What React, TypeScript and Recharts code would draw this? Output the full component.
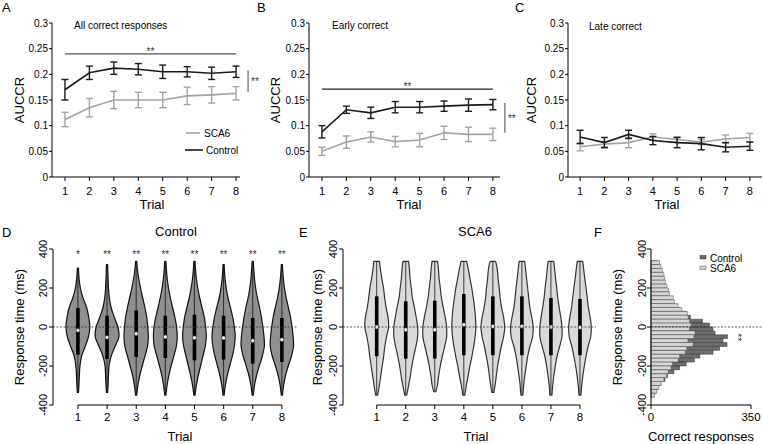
import React from "react";
import {
  LineChart,
  Line,
  BarChart,
  Bar,
  XAxis,
  YAxis,
  ErrorBar,
  ReferenceLine,
} from "recharts";

const trials = [1, 2, 3, 4, 5, 6, 7, 8];
const aucTicks = [0, 0.05, 0.1, 0.15, 0.2, 0.25, 0.3];
const rtTicks = [-400, -200, 0, 200, 400];

// A - all correct responses (AUCCR, mean and SEM)
const allCtl = [0.17, 0.203, 0.212, 0.21, 0.205, 0.205, 0.202, 0.205];
const allCtlErr = [0.02, 0.013, 0.012, 0.011, 0.013, 0.01, 0.012, 0.011];
const allSca = [0.112, 0.135, 0.15, 0.15, 0.15, 0.158, 0.16, 0.163];
const allScaErr = [0.014, 0.018, 0.017, 0.015, 0.015, 0.017, 0.016, 0.013];

// B - early correct
const earlyCtl = [0.088, 0.131, 0.125, 0.136, 0.136, 0.138, 0.14, 0.141];
const earlyCtlErr = [0.012, 0.007, 0.011, 0.011, 0.011, 0.01, 0.012, 0.01];
const earlySca = [0.05, 0.068, 0.078, 0.069, 0.072, 0.086, 0.083, 0.083];
const earlyScaErr = [0.008, 0.012, 0.01, 0.01, 0.013, 0.013, 0.014, 0.012];

// C - late correct
const lateCtl = [0.078, 0.067, 0.083, 0.071, 0.067, 0.065, 0.058, 0.06];
const lateCtlErr = [0.013, 0.01, 0.008, 0.008, 0.01, 0.012, 0.009, 0.008];
const lateSca = [0.059, 0.064, 0.067, 0.078, 0.073, 0.068, 0.074, 0.077];
const lateScaErr = [0.008, 0.005, 0.01, 0.006, 0.005, 0.005, 0.008, 0.008];

// D / E - violins of response time (ms)
const violinLevels = [300, 250, 200, 150, 100, 50, 0, -50, -100, -150, -200, -250, -300];

const ctlMax = [302, 320, 337, 337, 337, 320, 337, 320];
const ctlMin = [-335, -335, -349, -349, -349, -349, -349, -349];
const ctlQ3 = [97, 58, 85, 58, 63, 58, 46, 46];
const ctlQ1 = [-142, -164, -154, -159, -171, -167, -188, -179];
const ctlMed = [-17, -53, -34, -51, -55, -56, -70, -65];
const ctlStars = ["*", "**", "**", "**", "**", "**", "**", "**"];
const ctlWidths = [
  [0.02, 0.08, 0.17, 0.35, 0.6, 0.75, 0.82, 0.73, 0.5, 0.25, 0.14, 0.1, 0.07],
  [0.05, 0.07, 0.1, 0.16, 0.28, 0.5, 0.75, 0.82, 0.55, 0.28, 0.14, 0.1, 0.07],
  [0.08, 0.17, 0.3, 0.45, 0.6, 0.73, 0.8, 0.84, 0.78, 0.6, 0.42, 0.24, 0.12],
  [0.07, 0.13, 0.22, 0.35, 0.5, 0.66, 0.78, 0.82, 0.76, 0.58, 0.4, 0.24, 0.12],
  [0.07, 0.13, 0.23, 0.36, 0.52, 0.68, 0.77, 0.82, 0.74, 0.58, 0.42, 0.26, 0.13],
  [0.05, 0.1, 0.18, 0.3, 0.47, 0.63, 0.74, 0.8, 0.74, 0.6, 0.42, 0.25, 0.12],
  [0.07, 0.12, 0.2, 0.32, 0.47, 0.6, 0.7, 0.78, 0.8, 0.66, 0.45, 0.26, 0.12],
  [0.05, 0.1, 0.18, 0.3, 0.45, 0.6, 0.7, 0.78, 0.8, 0.66, 0.44, 0.25, 0.12],
];

const scaMax = [337, 337, 337, 337, 337, 337, 337, 337];
const scaMin = [-349, -349, -332, -349, -335, -349, -349, -349];
const scaQ3 = [157, 132, 135, 169, 157, 157, 149, 144];
const scaQ1 = [-150, -162, -162, -145, -145, -145, -145, -145];
const scaMed = [0, -14, -14, 12, 3, 3, 0, -2];
const scaWidths = [
  [0.25, 0.35, 0.47, 0.55, 0.65, 0.78, 0.82, 0.68, 0.56, 0.48, 0.38, 0.28, 0.18],
  [0.25, 0.3, 0.38, 0.46, 0.6, 0.72, 0.82, 0.82, 0.7, 0.55, 0.42, 0.32, 0.2],
  [0.25, 0.3, 0.38, 0.46, 0.58, 0.72, 0.82, 0.82, 0.68, 0.52, 0.38, 0.27, 0.18],
  [0.3, 0.42, 0.55, 0.65, 0.74, 0.8, 0.83, 0.78, 0.68, 0.56, 0.42, 0.3, 0.17],
  [0.3, 0.36, 0.44, 0.5, 0.6, 0.74, 0.82, 0.74, 0.58, 0.45, 0.33, 0.24, 0.15],
  [0.25, 0.32, 0.4, 0.47, 0.55, 0.68, 0.78, 0.74, 0.55, 0.4, 0.3, 0.2, 0.12],
  [0.25, 0.32, 0.4, 0.47, 0.57, 0.68, 0.76, 0.76, 0.6, 0.42, 0.3, 0.2, 0.12],
  [0.25, 0.33, 0.42, 0.5, 0.58, 0.7, 0.78, 0.74, 0.56, 0.42, 0.3, 0.2, 0.12],
];

// F - histogram of correct responses, 20 ms bins (bin centres)
const histBins = [
  330, 310, 290, 270, 250, 230, 210, 190, 170, 150, 130, 110, 90, 70, 50, 30, 10,
  -10, -30, -50, -70, -90, -110, -130, -150, -170, -190, -210, -230, -250, -270, -290, -310, -330, -350,
];
const histCtl = [
  22, 25, 30, 38, 40, 44, 48, 52, 55, 62, 70, 85, 100, 125, 138, 180, 205,
  217, 224, 268, 252, 266, 240, 217, 171, 152, 123, 100, 80, 58, 49, 35, 25, 18, 10,
];
const histSca = [
  30, 35, 40, 45, 48, 50, 56, 62, 65, 78, 82, 95, 108, 127, 130, 135, 140,
  135, 154, 150, 129, 147, 125, 120, 100, 95, 75, 70, 60, 55, 45, 35, 28, 20, 12,
];

const ctlColor = "#1c1c1c";
const scaColor = "#a4a4a4";
const axisFont = { fill: "#000", fontSize: 11 };

const aucPanels = [
  {
    left: 0, width: 262, right: 22, domain: [0.47, 8.16],
    ctl: allCtl, ctlErr: allCtlErr, sca: allSca, scaErr: allScaErr,
    sigY: 0.24, sigColor: "#555", barX: 8.49, barY: [0.166, 0.208],
  },
  {
    left: 257, width: 262, right: 19, domain: [0.47, 8.29],
    ctl: earlyCtl, ctlErr: earlyCtlErr, sca: earlySca, scaErr: earlyScaErr,
    sigY: 0.171, sigColor: "#222", barX: 8.49, barY: [0.086, 0.144],
  },
  {
    left: 516, width: 247, right: 1, domain: [0.5, 8.5],
    ctl: lateCtl, ctlErr: lateCtlErr, sca: lateSca, scaErr: lateScaErr,
    sigY: null, sigColor: "", barX: 0, barY: [0, 0],
  },
];

function AucPanel({ p }: { p: any }) {
  const rows = trials.map((t, i) => ({
    trial: t,
    ctl: p.ctl[i],
    ctlErr: p.ctlErr[i],
    sca: p.sca[i],
    scaErr: p.scaErr[i],
  }));
  return (
    <div style={{ position: "absolute", left: p.left, top: 0 }}>
      <LineChart
        width={p.width}
        height={215}
        data={rows}
        margin={{ top: 23, right: p.right, bottom: 0, left: 0 }}
      >
        <XAxis
          type="number"
          dataKey="trial"
          domain={p.domain}
          ticks={trials}
          allowDataOverflow
          height={38}
          stroke="#000"
          tick={axisFont}
          tickSize={4}
          tickMargin={6}
        />
        <YAxis
          domain={[0, 0.3]}
          ticks={aucTicks}
          width={52}
          stroke="#000"
          tick={{ fill: "#000", fontSize: 10 }}
          tickSize={3}
          tickMargin={1}
        />
        <Line
          type="linear"
          dataKey="sca"
          stroke={scaColor}
          strokeWidth={1.6}
          dot={false}
          isAnimationActive={false}
        >
          <ErrorBar dataKey="scaErr" width={3.5} stroke={scaColor} strokeWidth={1.4} direction="y" />
        </Line>
        <Line
          type="linear"
          dataKey="ctl"
          stroke={ctlColor}
          strokeWidth={1.6}
          dot={false}
          isAnimationActive={false}
        >
          <ErrorBar dataKey="ctlErr" width={3.5} stroke={ctlColor} strokeWidth={1.4} direction="y" />
        </Line>
        {p.sigY != null && (
          <ReferenceLine
            segment={[{ x: 1, y: p.sigY }, { x: 8, y: p.sigY }]}
            stroke={p.sigColor}
            strokeWidth={1.2}
            ifOverflow="visible"
            label={{ value: "**", position: "top", offset: -1, fontSize: 10, fill: "#333" }}
          />
        )}
        {p.sigY != null && (
          <ReferenceLine
            segment={[{ x: p.barX, y: p.barY[0] }, { x: p.barX, y: p.barY[1] }]}
            stroke="#666"
            strokeWidth={1.2}
            ifOverflow="visible"
            label={{ value: "**", position: "right", offset: 3, fontSize: 10, fill: "#333" }}
          />
        )}
      </LineChart>
    </div>
  );
}

function RotTick(props: any) {
  const { x, y, payload } = props;
  return (
    <text
      x={x}
      y={y}
      transform={`rotate(-90, ${x}, ${y})`}
      textAnchor="middle"
      fontSize={11}
      fill="#000"
    >
      {payload.value}
    </text>
  );
}

function smooth(pts: number[][]) {
  let d = "";
  for (let i = 0; i < pts.length - 1; i++) {
    const p0 = pts[Math.max(i - 1, 0)];
    const p1 = pts[i];
    const p2 = pts[i + 1];
    const p3 = pts[Math.min(i + 2, pts.length - 1)];
    d += ` C${p1[0] + (p2[0] - p0[0]) / 6},${p1[1] + (p2[1] - p0[1]) / 6} ${p2[0] - (p3[0] - p1[0]) / 6},${p2[1] - (p3[1] - p1[1]) / 6} ${p2[0]},${p2[1]}`;
  }
  return d;
}

function Violin(props: any) {
  const { x, y, width, height, payload, fill, outline } = props;
  const [lo, hi] = payload.range;
  const top = Math.min(y, y + height);
  const h = Math.abs(height);
  const py = (v: number) => top + ((hi - v) / (hi - lo)) * h;
  const cx = x + width / 2;
  const hw = width / 2;
  const prof: number[][] = [[hi, payload.capTop]];
  violinLevels.forEach((lv, i) => {
    if (lv < hi - 8 && lv > lo + 8) prof.push([lv, payload.widths[i]]);
  });
  prof.push([lo, payload.capBottom]);
  const rightSide = prof.map(([v, w]) => [cx + w * hw, py(v)]);
  const leftSide = prof
    .slice()
    .reverse()
    .map(([v, w]) => [cx - w * hw, py(v)]);
  const d =
    `M${rightSide[0][0]},${rightSide[0][1]}` +
    smooth(rightSide) +
    ` L${leftSide[0][0]},${leftSide[0][1]}` +
    smooth(leftSide) +
    " Z";
  return (
    <g>
      <path d={d} fill={fill} stroke={outline} strokeWidth={1.2} strokeLinejoin="round" />
      <line x1={cx} x2={cx} y1={py(hi)} y2={py(lo)} stroke="#111" strokeWidth={0.8} />
      <rect x={cx - 1.8} y={py(payload.q3)} width={3.6} height={py(payload.q1) - py(payload.q3)} fill="#000" />
      <circle cx={cx} cy={py(payload.med)} r={1.9} fill="#fff" stroke="#333" strokeWidth={0.5} />
      {payload.star ? (
        <text x={cx} y={py(355)} textAnchor="middle" fontSize={10} fill="#333">
          {payload.star}
        </text>
      ) : null}
    </g>
  );
}

const ctlRows = trials.map((t, i) => ({
  trial: t,
  range: [ctlMin[i], ctlMax[i]],
  q1: ctlQ1[i],
  q3: ctlQ3[i],
  med: ctlMed[i],
  widths: ctlWidths[i],
  capTop: 0.04,
  capBottom: 0.04,
  star: ctlStars[i],
}));

const scaRows = trials.map((t, i) => ({
  trial: t,
  range: [scaMin[i], scaMax[i]],
  q1: scaQ1[i],
  q3: scaQ3[i],
  med: scaMed[i],
  widths: scaWidths[i],
  capTop: 0.19,
  capBottom: 0.07,
  star: "",
}));

// lower charts: box top at 230, plot from y=249 to y=405
const lowTop = 230;
const lowHeight = 214;
const lowMarginTop = 19;

function ViolinPanel(props: any) {
  const { left, width, right, padding, rows, fill, outline } = props;
  return (
    <div style={{ position: "absolute", left, top: lowTop }}>
      <BarChart
        width={width}
        height={lowHeight}
        data={rows}
        margin={{ top: lowMarginTop, right, bottom: 0, left: 0 }}
        barCategoryGap={0}
      >
        <XAxis
          dataKey="trial"
          padding={padding}
          axisLine={false}
          interval={0}
          height={39}
          stroke="#000"
          tick={{ fill: "#000", fontSize: 11.5 }}
          tickSize={4}
          tickMargin={4}
        />
        <YAxis
          domain={[-400, 400]}
          ticks={rtTicks}
          width={53}
          stroke="#000"
          tick={(t: any) => <RotTick {...t} />}
          tickSize={4}
          tickMargin={2}
        />
        <Bar
          dataKey="range"
          fill={fill}
          isAnimationActive={false}
          shape={(s: any) => <Violin {...s} fill={fill} outline={outline} />}
        />
        <ReferenceLine y={0} stroke="#333" strokeWidth={0.8} strokeDasharray="2 1.5" />
        <ReferenceLine
          segment={[{ x: 1, y: -400 }, { x: 8, y: -400 }]}
          stroke="#000"
          ifOverflow="visible"
        />
      </BarChart>
    </div>
  );
}

const histRows = histBins.map((b, i) => ({ bin: b, ctl: histCtl[i], sca: histSca[i] }));

function HistPanel() {
  return (
    <div style={{ position: "absolute", left: 580, top: lowTop }}>
      <BarChart
        layout="vertical"
        width={183}
        height={lowHeight}
        data={histRows}
        margin={{ top: lowMarginTop, right: 12, bottom: 0, left: 0 }}
        barCategoryGap={0}
        barGap={-3.8}
      >
        <XAxis
          type="number"
          domain={[0, 350]}
          ticks={[0, 350]}
          height={39}
          stroke="#000"
          tick={{ fill: "#000", fontSize: 11.5 }}
          tickSize={4}
          tickMargin={4}
        />
        <YAxis
          type="number"
          dataKey="bin"
          domain={[-400, 400]}
          ticks={rtTicks}
          reversed
          width={71}
          stroke="#000"
          tick={(t: any) => <RotTick {...t} />}
          tickSize={4}
          tickMargin={1}
        />
        <Bar
          dataKey="ctl"
          fill="#6e6e6e"
          stroke="#333"
          strokeWidth={0.5}
          barSize={3.8}
          isAnimationActive={false}
        />
        <Bar
          dataKey="sca"
          fill="#d4d4d4"
          stroke="#555"
          strokeWidth={0.5}
          barSize={3.8}
          isAnimationActive={false}
        />
        <ReferenceLine
          segment={[{ x: 0, y: 0 }, { x: 395, y: 0 }]}
          stroke="#333"
          strokeWidth={0.8}
          strokeDasharray="2 1.5"
          ifOverflow="visible"
        />
      </BarChart>
    </div>
  );
}

function Overlay() {
  const rot = (x: number, y: number, s: string) => (
    <text x={x} y={y} transform={`rotate(-90, ${x}, ${y})`} textAnchor="middle" fontSize={13}>
      {s}
    </text>
  );
  return (
    <svg
      width={763}
      height={444}
      style={{ position: "absolute", left: 0, top: 0, pointerEvents: "none" }}
      fill="#000"
    >
      <g fontSize={13}>
        <text x={2} y={12}>A</text>
        <text x={257} y={12}>B</text>
        <text x={515} y={12}>C</text>
        <text x={2} y={237}>D</text>
        <text x={299} y={237}>E</text>
        <text x={594} y={237}>F</text>
      </g>
      <g fontSize={10}>
        <text x={74} y={29}>All correct responses</text>
        <text x={332} y={29}>Early correct</text>
        <text x={589} y={30}>Late correct</text>
      </g>
      {rot(24, 100, "AUCCR")}
      {rot(280, 100, "AUCCR")}
      {rot(536, 100, "AUCCR")}
      <g fontSize={13} textAnchor="middle">
        <text x={152} y={209}>Trial</text>
        <text x={409} y={209}>Trial</text>
        <text x={667} y={209}>Trial</text>
        <text x={176} y={236}>Control</text>
        <text x={475} y={236}>SCA6</text>
        <text x={180} y={441}>Trial</text>
        <text x={476} y={441}>Trial</text>
        <text x={701} y={441}>Correct responses</text>
      </g>
      {rot(24, 327, "Response time (ms)")}
      {rot(322, 327, "Response time (ms)")}
      {rot(622, 327, "Response time (ms)")}
      {/* legend A */}
      <line x1={186} x2={200} y1={133} y2={133} stroke={scaColor} strokeWidth={1.6} />
      <text x={204} y={136.5} fontSize={10}>SCA6</text>
      <line x1={185} x2={203} y1={150} y2={150} stroke={ctlColor} strokeWidth={1.6} />
      <text x={206} y={153.5} fontSize={10}>Control</text>
      {/* legend F */}
      <rect x={700} y={255.5} width={6} height={3.5} fill="#6e6e6e" stroke="#333" strokeWidth={0.5} />
      <text x={710} y={261.5} fontSize={10}>Control</text>
      <rect x={700} y={266} width={6} height={3.5} fill="#d4d4d4" stroke="#555" strokeWidth={0.5} />
      <text x={710} y={272} fontSize={10}>SCA6</text>
      {/* stacked significance stars */}
      <text
        x={733.5}
        y={337.5}
        transform="rotate(90, 733.5, 337.5)"
        fontSize={10}
        textAnchor="middle"
        fill="#333"
      >
        **
      </text>
    </svg>
  );
}

export default function App() {
  return (
    <div
      style={{
        position: "absolute",
        left: 0,
        top: 0,
        width: 763,
        height: 444,
        background: "#fff",
        fontFamily: "'Liberation Sans', Arial, sans-serif",
        overflow: "hidden",
      }}
    >
      {aucPanels.map((p, i) => (
        <AucPanel key={i} p={p} />
      ))}
      <ViolinPanel
        left={0}
        width={300}
        right={2}
        padding={{ left: 10.4, right: 1.5 }}
        rows={ctlRows}
        fill="#8f8f8f"
        outline="#111"
      />
      <ViolinPanel
        left={290}
        width={310}
        right={4}
        padding={{ left: 19.2, right: 1.5 }}
        rows={scaRows}
        fill="#dadada"
        outline="#333"
      />
      <HistPanel />
      <Overlay />
    </div>
  );
}
